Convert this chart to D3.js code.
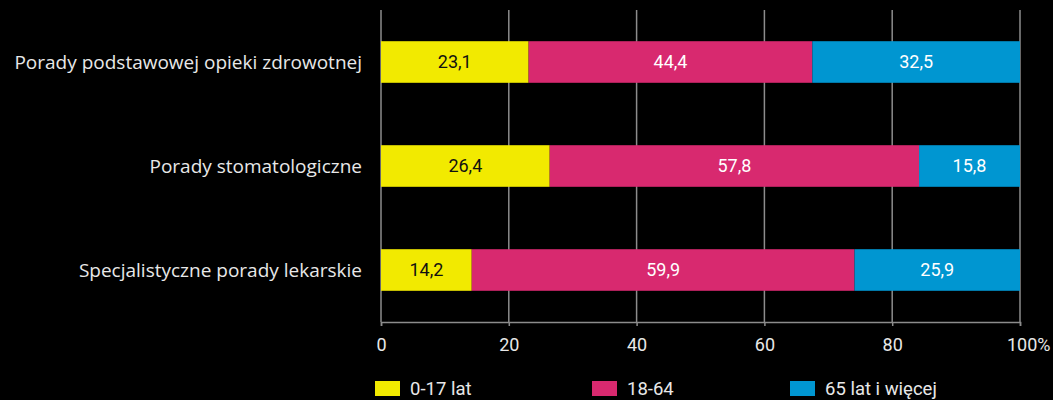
<!DOCTYPE html>
<html>
<head>
<meta charset="utf-8">
<script src="https://cdn.jsdelivr.net/npm/d3@7"></script>
<style>
  html, body { margin: 0; padding: 0; background: #000; }
  svg { display: block; }
</style>
</head>
<body>
<svg id="chart" width="1053" height="400"></svg>
<script>
const categories = [
  "Porady podstawowej opieki zdrowotnej",
  "Porady stomatologiczne",
  "Specjalistyczne porady lekarskie"
];
const seriesNames = ["0-17 lat", "18-64", "65 lat i więcej"];
const seriesColors = ["#f2ea00", "#d8296f", "#0096d1"];
const labelColors = ["#111111", "#ffffff", "#ffffff"];
const values017 = [23.1, 26.4, 14.2];
const values1864 = [44.4, 57.8, 59.9];
const values65 = [32.5, 15.8, 25.9];
const tickValues = [0, 20, 40, 60, 80, 100];
const tickLabels = ["0", "20", "40", "60", "80", "100%"];

(function () {
const seriesValues = [values017, values1864, values65];
const rows = categories.map((c, i) => {
  const o = { category: c };
  seriesNames.forEach((s, j) => { o[s] = seriesValues[j][i]; });
  return o;
});

const svg = d3.select("#chart");
const mLeft = 381, mRight = 1020, mTop = 10, axisY = 322;
const fontLabel = "'Open Sans', sans-serif";
const fontNum = "Roboto, sans-serif";

const x = d3.scaleLinear().domain([0, 100]).range([mLeft, mRight]);
const y = d3.scaleBand().domain(categories).range([mTop, axisY])
  .paddingInner(0.6).paddingOuter(0.3);

// grid
svg.append("g").selectAll("line").data(tickValues).join("line")
  .attr("x1", d => x(d)).attr("x2", d => x(d))
  .attr("y1", mTop).attr("y2", axisY)
  .attr("stroke", "#8c8c8c").attr("stroke-width", 1.5);

// axis
const axis = d3.axisBottom(x).tickValues(tickValues)
  .tickFormat((d, i) => tickLabels[i]).tickSize(4).tickPadding(12);
const ag = svg.append("g").attr("transform", `translate(0,${axisY})`).call(axis);
ag.select(".domain").attr("stroke", "#8c8c8c").attr("stroke-width", 1.5);
ag.selectAll(".tick line").attr("stroke", "#8c8c8c").attr("stroke-width", 1.5);
ag.selectAll(".tick text").attr("fill", "#e8e8e8")
  .style("font-family", fontNum).style("font-size", "18px");
ag.selectAll(".tick text").filter((d, i) => i === tickValues.length - 1)
  .attr("text-anchor", "end").attr("dx", "30px");

// stack
const stack = d3.stack().keys(seriesNames)(rows);
const groups = svg.append("g").selectAll("g").data(stack).join("g")
  .attr("fill", (d, i) => seriesColors[i]);
groups.selectAll("rect").data(d => d).join("rect")
  .attr("x", d => x(d[0]))
  .attr("width", d => x(d[1]) - x(d[0]))
  .attr("y", d => y(d.data.category))
  .attr("height", y.bandwidth());

// value labels
stack.forEach((s, i) => {
  svg.append("g").selectAll("text").data(s).join("text")
    .attr("x", d => (x(d[0]) + x(d[1])) / 2)
    .attr("y", d => y(d.data.category) + y.bandwidth() / 2)
    .attr("dy", "0.36em")
    .attr("text-anchor", "middle")
    .attr("fill", labelColors[i])
    .style("font-family", fontNum).style("font-size", "18px")
    .text(d => d3.format(".1f")(d[1] - d[0]).replace(".", ","));
});

// category labels
svg.append("g").selectAll("text").data(categories).join("text")
  .attr("x", mLeft - 19)
  .attr("y", d => y(d) + y.bandwidth() / 2)
  .attr("dy", "0.36em")
  .attr("text-anchor", "end")
  .attr("fill", "#e8e8e8")
  .style("font-family", fontLabel).style("font-size", "19px")
  .text(d => d);

// legend
const legendX = [375, 592, 790];
const lg = svg.append("g").selectAll("g").data(seriesNames).join("g")
  .attr("transform", (d, i) => `translate(${legendX[i]},381)`);
lg.append("rect").attr("width", 25).attr("height", 15)
  .attr("fill", (d, i) => seriesColors[i]);
lg.append("text").attr("x", 35).attr("y", 7.5).attr("dy", "0.36em")
  .attr("fill", "#e8e8e8")
  .style("font-family", fontNum).style("font-size", "18.5px")
  .text(d => d);
})();
</script>
</body>
</html>
